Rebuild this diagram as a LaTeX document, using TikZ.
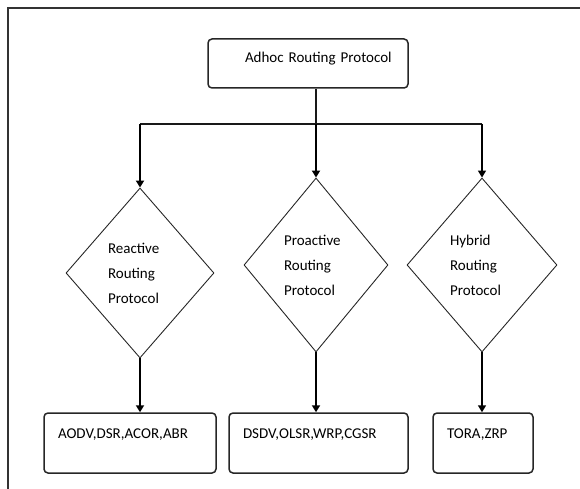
\documentclass[tikz,border=0pt]{standalone}
\usepackage{fontspec}
\setmainfont{Carlito}
\usetikzlibrary{shapes.geometric,arrows.meta}
\begin{document}
\begin{tikzpicture}[x=1pt,y=-1pt,
  every node/.style={font=\fontsize{15}{25}\selectfont, text=black},
  framebox/.style={draw=black!85, line width=1.5pt, rounded corners=4pt},
  leafbox/.style={framebox, align=left, inner xsep=14pt, inner ysep=0pt, minimum height=60pt, text height=9.5pt, text depth=18.5pt},
  choice/.style={draw=black!85, line width=0.9pt, diamond, inner sep=0pt, align=left, text width=64pt},
  link/.style={draw=black!90, line width=1.4pt},
  thickarrow/.style={draw=black, line width=2.6pt, -{Triangle[width=8pt,length=7pt]}},
  thinarrow/.style={draw=black, line width=1.5pt, -{Triangle[width=8pt,length=7pt]}}
]
\useasboundingbox (0,0) rectangle (580,489);
% outer frame (only left and top edges visible)
\coordinate (fbl) at (8,489);
\coordinate (ftl) at (8,8);
\coordinate (ftr) at (580,8);
\draw[draw=black!80, line width=2pt] (fbl) -- (ftl) -- (ftr);

% top box
\node[framebox, minimum width=200pt, minimum height=49pt, inner sep=0pt, text width=200pt, align=left, text height=9.3pt, text depth=11.3pt]
  (top) at (308,63.5) {\hspace*{37pt}Adhoc Routing Protocol};

% junction bar
\coordinate (j) at (316,124);
\coordinate (jl) at (140,124);
\coordinate (jr) at (482,124);
\draw[link] (top.south -| j) -- (j);
\draw[link] (jl) -- (jr);

% diamonds
\node[choice, minimum width=148pt, minimum height=170pt] (react) at (140,273) {Reactive\\Routing\\Protocol};
\node[choice, minimum width=144pt, minimum height=174pt] (proact) at (316,265) {Proactive\\Routing\\Protocol};
\node[choice, minimum width=150pt, minimum height=174pt] (hybrid) at (482,265) {Hybrid\\Routing\\Protocol};

\draw[thickarrow] (jl) -- (react.north);
\draw[thickarrow] (j) -- (proact.north);
\draw[thinarrow] (jr) -- (hybrid.north);

% leaf boxes
\node[leafbox, text width=144pt] (b1) at (130,443) {AODV,DSR,ACOR,ABR};
\node[leafbox, text width=151pt] (b2) at (318.5,443) {DSDV,OLSR,WRP,CGSR};
\node[leafbox, text width=72pt] (b3) at (483,443) {TORA,ZRP};

\draw[thickarrow] (react.south) -- (react.south |- b1.north);
\draw[thickarrow, line width=2.3pt] (proact.south) -- (proact.south |- b2.north);
\draw[thinarrow] (hybrid.south) -- (hybrid.south |- b3.north);
\end{tikzpicture}
\end{document}
